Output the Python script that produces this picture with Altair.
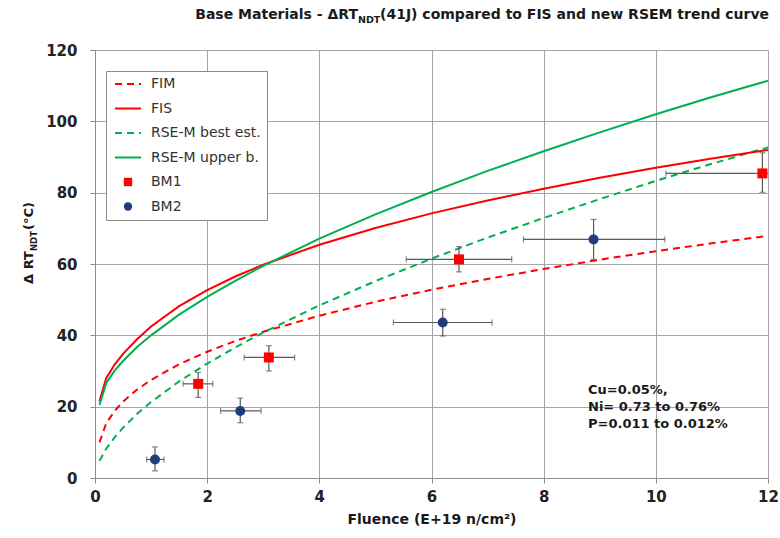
import altair as alt
import pandas as pd

# ---- trend curves ----
x_curve = [0.08, 0.2, 0.35, 0.5, 0.75, 1, 1.5, 2, 2.5, 3, 4, 5, 6, 7, 8, 9, 10, 11, 12]
fim = [10.0, 15.3, 18.8, 21.4, 24.8, 27.5, 31.9, 35.4, 38.4, 41.0, 45.5, 49.4, 52.8, 55.8, 58.6, 61.2, 63.6, 65.8, 67.9]
fis = [21.5, 28.0, 31.8, 34.8, 38.9, 42.5, 48.2, 52.7, 56.5, 59.8, 65.4, 70.1, 74.2, 77.8, 81.1, 84.2, 87.0, 89.6, 92.0]
rse_best = [4.8, 8.2, 11.4, 14.1, 18.0, 21.3, 27.1, 32.1, 36.6, 40.8, 48.4, 55.2, 61.5, 67.4, 72.9, 78.2, 83.3, 88.1, 92.7]
rse_upper = [20.5, 26.6, 30.1, 32.8, 36.7, 40.0, 45.8, 50.8, 55.3, 59.5, 67.1, 73.9, 80.2, 86.1, 91.6, 96.9, 102.0, 106.8, 111.4]

# ---- measured data ----
bm1_x = [1.84, 3.10, 6.49, 11.9]
bm1_y = [26.4, 33.8, 61.3, 85.4]
bm1_xlo = [1.57, 2.66, 5.55, 10.18]
bm1_xhi = [2.10, 3.56, 7.43, 13.6]
bm1_ylo = [22.6, 30.0, 57.8, 80.1]
bm1_yhi = [29.6, 37.1, 64.9, 91.2]

bm2_x = [1.07, 2.59, 6.20, 8.89]
bm2_y = [5.2, 18.8, 43.6, 66.9]
bm2_xlo = [0.92, 2.24, 5.32, 7.64]
bm2_xhi = [1.23, 2.96, 7.08, 10.16]
bm2_ylo = [2.0, 15.5, 39.8, 61.3]
bm2_yhi = [8.7, 22.4, 47.3, 72.5]

series_names = ["FIM", "FIS", "RSE-M best est.", "RSE-M upper b.", "BM1", "BM2"]
series_colors = ["#ff0000", "#ff0000", "#00b050", "#00b050", "#ff0000", "#1f3d7a"]

x_ticks = [0, 2, 4, 6, 8, 10, 12]
y_ticks = [0, 20, 40, 60, 80, 100, 120]

annotation_text = ["Cu=0.05%,", "Ni= 0.73 to 0.76%", "P=0.011 to 0.012%"]
title_left = "Base Materials - \u0394RT"
title_sub = "NDT"
title_right = "(41J) compared to FIS and new RSEM trend curve"
ytitle_left = "\u0394 RT"
ytitle_sub = "NDT"
ytitle_right = " (\u00b0C)"
x_title = "Fluence (E+19 n/cm\u00b2)"

FONT = "DejaVu Sans"

# ---- tables ----
rows = []
for name, vals in [("FIM", fim), ("FIS", fis), ("RSE-M best est.", rse_best), ("RSE-M upper b.", rse_upper)]:
    for i, (xv, yv) in enumerate(zip(x_curve, vals)):
        rows.append({"x": xv, "y": yv, "series": name, "order": i})
curves = pd.DataFrame(rows)

pts = pd.concat([
    pd.DataFrame({"x": bm1_x, "y": bm1_y, "xlo": bm1_xlo, "xhi": bm1_xhi,
                  "ylo": bm1_ylo, "yhi": bm1_yhi, "series": "BM1"}),
    pd.DataFrame({"x": bm2_x, "y": bm2_y, "xlo": bm2_xlo, "xhi": bm2_xhi,
                  "ylo": bm2_ylo, "yhi": bm2_yhi, "series": "BM2"}),
], ignore_index=True)

color_scale = alt.Scale(domain=series_names, range=series_colors)
xscale = alt.Scale(domain=[0, 12], nice=False, zero=False)
yscale = alt.Scale(domain=[0, 120], nice=False)

IS_PT = "(datum.value==='BM1' || datum.value==='BM2')"
legend = alt.Legend(
    title=None, orient="none", legendX=11, legendY=21,
    fillColor="white", strokeColor="#8c8c8c", padding=6,
    labelFont=FONT, labelFontSize=14, labelColor="#333333",
    symbolOffset=9, rowPadding=10.5, labelOffset=16,
    symbolType=alt.ExprRef(expr="datum.value==='BM1' ? 'square' : (datum.value==='BM2' ? 'circle' : 'stroke')"),
    symbolSize=alt.ExprRef(expr=IS_PT + " ? 70 : 676"),
    symbolDash=alt.ExprRef(expr="(datum.value==='FIM' || datum.value==='RSE-M best est.') ? [7,5] : [1,0]"),
    symbolFillColor=alt.ExprRef(expr="datum.value==='BM1' ? '#ff0000' : (datum.value==='BM2' ? '#1f3d7a' : 'transparent')"),
    symbolStrokeColor=alt.ExprRef(expr="(datum.value==='FIM' || datum.value==='FIS') ? '#ff0000' : (" + IS_PT + " ? 'transparent' : '#00b050')"),
    symbolStrokeWidth=alt.ExprRef(expr=IS_PT + " ? 0 : 2"),
    symbolOpacity=1,
)

color_enc = alt.Color("series:N", scale=color_scale, legend=legend)

x_axis = alt.Axis(values=x_ticks, format="d", title=x_title, titleFont=FONT, titleFontSize=14,
                  titleFontWeight="bold", titleColor="#1a1a1a", titlePadding=8,
                  labelFont=FONT, labelFontSize=15, labelFontWeight="bold",
                  labelColor="#222222", labelPadding=6, tickSize=5,
                  domainColor="#8c8c8c", tickColor="#8c8c8c", gridColor="#a6a6a6",
                  labelFlush=False)
y_axis = alt.Axis(values=y_ticks, format="d", title=None, labelFont=FONT, labelFontSize=15,
                  labelFontWeight="bold", labelColor="#222222", labelPadding=13,
                  tickSize=5, domainColor="#8c8c8c", tickColor="#8c8c8c",
                  gridColor="#a6a6a6", labelFlush=False)

X = alt.X("x:Q", scale=xscale, axis=x_axis)
Y = alt.Y("y:Q", scale=yscale, axis=y_axis)

base_c = alt.Chart(curves)
dashed = base_c.mark_line(strokeWidth=2, strokeDash=[7, 5], clip=True).encode(
    x=X, y=Y, color=color_enc, order="order:Q"
).transform_filter(alt.FieldOneOfPredicate(field="series", oneOf=["FIM", "RSE-M best est."]))
solid = base_c.mark_line(strokeWidth=2, clip=True).encode(
    x=X, y=Y, color=color_enc, order="order:Q"
).transform_filter(alt.FieldOneOfPredicate(field="series", oneOf=["FIS", "RSE-M upper b."]))

base_p = alt.Chart(pts)
ecol = "#595959"
xerr = base_p.mark_rule(color=ecol, strokeWidth=1.2, clip=True).encode(
    x=alt.X("xlo:Q", scale=xscale), x2="xhi:Q", y=alt.Y("y:Q", scale=yscale))
yerr = base_p.mark_rule(color=ecol, strokeWidth=1.2, clip=True).encode(
    x=alt.X("x:Q", scale=xscale), y=alt.Y("ylo:Q", scale=yscale), y2="yhi:Q")
cap_xlo = base_p.mark_tick(color=ecol, orient="vertical", size=6, thickness=1.2, clip=True).encode(
    x=alt.X("xlo:Q", scale=xscale), y=alt.Y("y:Q", scale=yscale))
cap_xhi = base_p.mark_tick(color=ecol, orient="vertical", size=6, thickness=1.2, clip=True).encode(
    x=alt.X("xhi:Q", scale=xscale), y=alt.Y("y:Q", scale=yscale))
cap_ylo = base_p.mark_tick(color=ecol, orient="horizontal", size=6, thickness=1.2, clip=True).encode(
    x=alt.X("x:Q", scale=xscale), y=alt.Y("ylo:Q", scale=yscale))
cap_yhi = base_p.mark_tick(color=ecol, orient="horizontal", size=6, thickness=1.2, clip=True).encode(
    x=alt.X("x:Q", scale=xscale), y=alt.Y("yhi:Q", scale=yscale))

bm1 = base_p.mark_point(shape="square", filled=True, size=100, opacity=1).encode(
    x=alt.X("x:Q", scale=xscale), y=alt.Y("y:Q", scale=yscale), color=color_enc
).transform_filter(alt.datum.series == "BM1")
bm2 = base_p.mark_point(shape="circle", filled=True, size=100, opacity=1).encode(
    x=alt.X("x:Q", scale=xscale), y=alt.Y("y:Q", scale=yscale), color=color_enc
).transform_filter(alt.datum.series == "BM2")

# ---- texts ----
txt = pd.DataFrame({"t": ["\n".join(annotation_text)]})
annot = alt.Chart(txt).mark_text(
    font=FONT, fontSize=13, fontWeight="bold", color="#1a1a1a", align="left",
    baseline="top", lineBreak="\n", lineHeight=17
).encode(text="t:N", x=alt.value(493), y=alt.value(334))

ttl = pd.DataFrame({"a": [title_left], "b": [title_sub], "c": [title_right]})
TX = 263
t1 = alt.Chart(ttl).mark_text(font=FONT, fontSize=14, fontWeight="bold", color="#1a1a1a",
                              align="right", baseline="alphabetic").encode(
    text="a:N", x=alt.value(TX), y=alt.value(-31))
t2 = alt.Chart(ttl).mark_text(font=FONT, fontSize=9.5, fontWeight="bold", color="#1a1a1a",
                              align="left", baseline="alphabetic").encode(
    text="b:N", x=alt.value(TX), y=alt.value(-27))
t3 = alt.Chart(ttl).mark_text(font=FONT, fontSize=14, fontWeight="bold", color="#1a1a1a",
                              align="left", baseline="alphabetic").encode(
    text="c:N", x=alt.value(TX + 22), y=alt.value(-31))

yt = pd.DataFrame({"a": [ytitle_left], "b": [ytitle_sub], "c": [ytitle_right]})
YX = -66
YY = 201
y1 = alt.Chart(yt).mark_text(font=FONT, fontSize=13, fontWeight="bold", color="#1a1a1a",
                             align="right", baseline="middle", angle=270).encode(
    text="a:N", x=alt.value(YX), y=alt.value(YY))
y2 = alt.Chart(yt).mark_text(font=FONT, fontSize=8.5, fontWeight="bold", color="#1a1a1a",
                             align="left", baseline="middle", angle=270).encode(
    text="b:N", x=alt.value(YX + 5), y=alt.value(YY))
y3 = alt.Chart(yt).mark_text(font=FONT, fontSize=13, fontWeight="bold", color="#1a1a1a",
                             align="left", baseline="middle", angle=270).encode(
    text="c:N", x=alt.value(YX), y=alt.value(YY - 21))

chart = alt.layer(
    dashed, solid, xerr, yerr, cap_xlo, cap_xhi, cap_ylo, cap_yhi, bm1, bm2,
    annot, t1, t2, t3, y1, y2, y3
).properties(
    width=673, height=428,
    autosize=alt.AutoSizeParams(type="none"),
    padding={"left": 95, "top": 50, "right": 12, "bottom": 60},
).configure_view(stroke="#a6a6a6").configure(background="white")

chart.save("out.html", embed_options={"renderer": "svg", "actions": False})
